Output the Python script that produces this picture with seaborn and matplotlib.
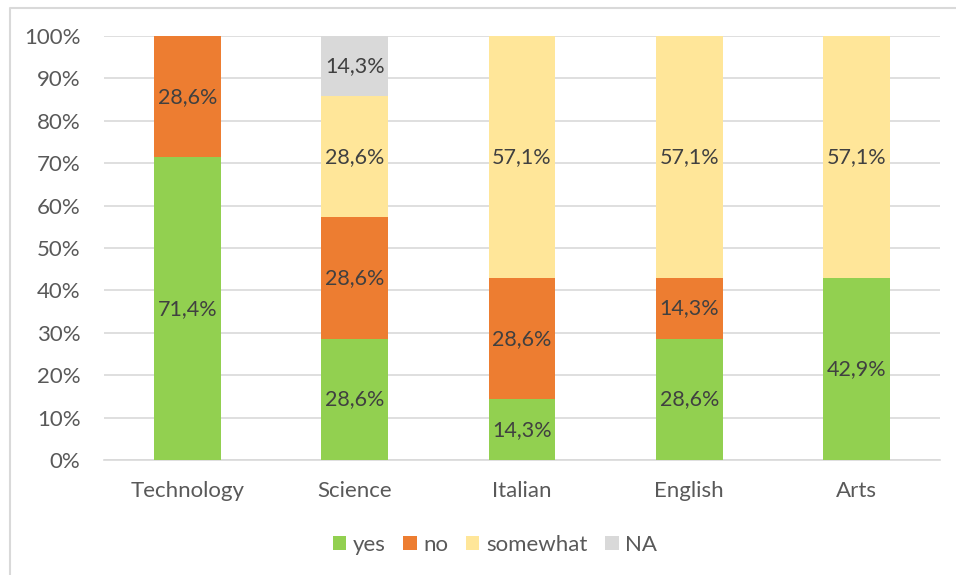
import numpy as np
import pandas as pd
import seaborn as sns
from matplotlib import pyplot as plt
from matplotlib.lines import Line2D
from matplotlib.patches import Patch

# Dados do gráfico
subjects = ["Technology", "Science", "Italian", "English", "Arts"]
answers = ["yes", "no", "somewhat", "NA"]
yes = [71.4, 28.6, 14.3, 28.6, 42.9]
no = [28.6, 28.6, 28.6, 14.3, 0.0]
somewhat = [0.0, 28.6, 57.1, 57.1, 57.1]
na = [0.0, 14.3, 0.0, 0.0, 0.0]
colors = ["#92D050", "#ED7D31", "#FFE699", "#D9D9D9"]

sns.set_style("white")
plt.rcParams["font.family"] = ["Lato", "DejaVu Sans"]

fig = plt.figure(figsize=(9.56, 5.75), dpi=100)
ax = fig.add_axes([104 / 956, 115 / 575, 836 / 956, 424 / 575])

# Barras empilhadas
bottom = np.zeros(len(subjects))
for name, vals, col in zip(answers, [yes, no, somewhat, na], colors):
    df = pd.DataFrame({"subject": subjects, "value": vals})
    sns.barplot(data=df, x="subject", y="value", color=col, width=0.4,
                bottom=bottom, ax=ax, saturation=1, linewidth=0, zorder=3)
    for i, v in enumerate(vals):
        if v > 0:
            ax.text(i, bottom[i] + v / 2, f"{v:.1f}%".replace(".", ","),
                    ha="center", va="center", fontsize=15.5, color="#404040", zorder=4)
    bottom = bottom + np.array(vals)

# Eixos
ax.set_ylim(0, 100)
ax.set_xlim(-0.5, 4.5)
ax.set_yticks(range(0, 101, 10))
ax.set_yticklabels([f"{t}%" for t in range(0, 101, 10)])
ax.yaxis.grid(True, color="#D9D9D9", linewidth=1.2, zorder=0)
ax.set_xlabel("")
ax.set_ylabel("")
for s in ["top", "right", "left"]:
    ax.spines[s].set_visible(False)
ax.spines["bottom"].set_color("#D9D9D9")
ax.spines["bottom"].set_linewidth(1.2)
ax.tick_params(axis="both", length=0, labelsize=16, labelcolor="#595959")
ax.tick_params(axis="y", pad=17)
ax.tick_params(axis="x", pad=15)

# Legenda
handles = [Patch(facecolor=c, edgecolor="none") for c in colors]
fig.legend(handles, answers, loc="center", bbox_to_anchor=(495 / 956, 1 - 545 / 575),
           ncol=4, frameon=False, fontsize=16, handlelength=0.6, handleheight=0.6,
           handletextpad=0.3, columnspacing=0.8, labelcolor="#595959")

# Borda do gráfico
fig.add_artist(Line2D([10 / 956, 10 / 956, 1], [0, 1 - 8 / 575, 1 - 8 / 575],
                      color="#D9D9D9", linewidth=1.5, transform=fig.transFigure))

plt.savefig("out.png", dpi=100)
plt.close()
